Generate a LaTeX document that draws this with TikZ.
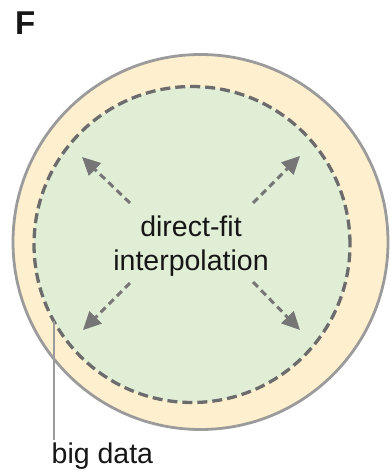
\documentclass[tikz,border=0pt]{standalone}
\usepackage{fontspec}
\setmainfont{Liberation Sans}
\usetikzlibrary{arrows.meta}
\definecolor{creamfill}{RGB}{254,240,206}
\definecolor{greenfill}{RGB}{224,238,214}
\definecolor{rimgray}{RGB}{155,155,155}
\definecolor{dashgray}{RGB}{108,108,108}
\definecolor{arrowgray}{RGB}{118,118,118}
\definecolor{inkblack}{RGB}{22,22,22}
\tikzset{
  outerdisc/.style={circle, draw=rimgray, line width=2.8pt, fill=creamfill,
    minimum size=375pt, inner sep=0pt, outer sep=0pt},
  innerdisc/.style={circle, draw=dashgray, line width=3.3pt, fill=greenfill,
    dash pattern=on 10pt off 5pt, minimum size=316pt, inner sep=0pt, outer sep=0pt},
  spread/.style={draw=arrowgray, line width=3pt, dash pattern=on 7pt off 4.5pt,
    -{Triangle[length=18pt, width=17pt, fill=arrowgray]}},
  leader/.style={draw=rimgray, line width=2.6pt},
  caption/.style={font=\fontsize{28.5}{34}\selectfont, text=inkblack, inner sep=0pt},
}
\begin{document}
\begin{tikzpicture}[x=1pt, y=-1pt]
  \useasboundingbox (0,0) rectangle (391,476);
  % panel letter
  \node[font=\bfseries\fontsize{33}{36}\selectfont, text=inkblack, inner sep=0pt,
        anchor=base west] (panel) at (15,35) {F};
  % nested regions
  \node[outerdisc] (bigdata) at (200.5,242) {};
  \node[innerdisc] (direct) at (192,244.5) {};
  % central label
  \node[caption, align=center] (label) at (191,246) {direct-fit\\interpolation};
  % arrows pointing outward from the centre
  \coordinate (ulT) at (130,203);  \coordinate (ulH) at (82,157);
  \coordinate (urT) at (253,203);  \coordinate (urH) at (300,156);
  \coordinate (llT) at (130,283);  \coordinate (llH) at (83,330);
  \coordinate (lrT) at (253,282);  \coordinate (lrH) at (300,330);
  \draw[spread] (ulT) -- (ulH);
  \draw[spread] (urT) -- (urH);
  \draw[spread] (llT) -- (llH);
  \draw[spread] (lrT) -- (lrH);
  % leader to the outer-region caption
  \node[caption, anchor=base west] (bigtext) at (51.5,463) {big data};
  \coordinate (leadEnd) at (54,440);
  \draw[leader] (direct.209.5) -- (direct.209.5 |- leadEnd);
\end{tikzpicture}
\end{document}
